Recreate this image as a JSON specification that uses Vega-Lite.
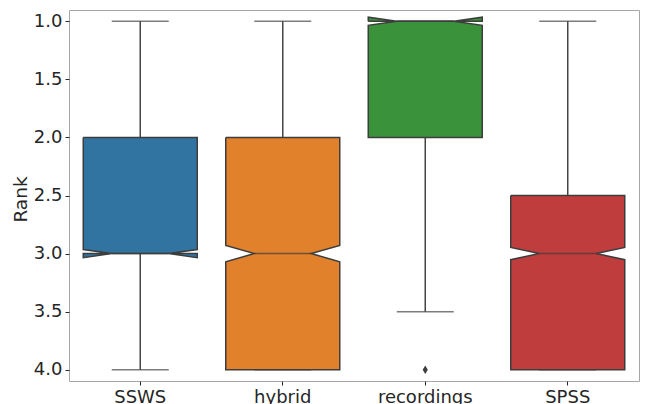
{
  "$schema": "https://vega.github.io/schema/vega-lite/v6.json",
  "width": 570,
  "height": 371,
  "autosize": {"type": "none"},
  "padding": {"left": 69, "top": 10, "right": 7, "bottom": 23},
  "background": "white",
  "datasets": {
    "boxes": [
      {"system": "SSWS", "lo": 1.0, "q1": 2.0, "med": 3.0, "q3": 3.0, "hi": 4.0, "nlo": 2.965, "nhi": 3.035},
      {"system": "hybrid", "lo": 1.0, "q1": 2.0, "med": 3.0, "q3": 4.0, "hi": 4.0, "nlo": 2.93, "nhi": 3.07},
      {"system": "recordings", "lo": 1.0, "q1": 1.0, "med": 1.0, "q3": 2.0, "hi": 3.5, "nlo": 0.965, "nhi": 1.035},
      {"system": "SPSS", "lo": 1.0, "q1": 2.5, "med": 3.0, "q3": 4.0, "hi": 4.0, "nlo": 2.9475, "nhi": 3.0525}
    ],
    "fliers": [
      {"system": "recordings", "rank": 4.0}
    ]
  },
  "data": {"name": "boxes"},
  "encoding": {
    "x": {
      "field": "system",
      "type": "nominal",
      "sort": ["SSWS", "hybrid", "recordings", "SPSS"],
      "scale": {"type": "band", "paddingInner": 0.2, "paddingOuter": 0.1},
      "axis": {"title": null, "labelAngle": 0, "labelPadding": 3}
    }
  },
  "layer": [
    {
      "mark": {"type": "rule", "color": "#454545", "strokeWidth": 1.5},
      "encoding": {
        "y": {"field": "lo", "type": "quantitative", "title": "Rank", "scale": {"domain": [0.9027, 4.0973], "reverse": true, "nice": false, "zero": false},
              "axis": {"values": [1, 1.5, 2, 2.5, 3, 3.5, 4], "format": ".1f", "labelPadding": 3, "titleX": -43, "titleY": 189, "titleBaseline": "alphabetic", "titleAngle": 270}},
        "y2": {"field": "q1"}
      }
    },
    {
      "mark": {"type": "rule", "color": "#454545", "strokeWidth": 1.5},
      "encoding": {
        "y": {"field": "q3", "type": "quantitative", "title": "Rank", "scale": {"domain": [0.9027, 4.0973], "reverse": true, "nice": false, "zero": false}},
        "y2": {"field": "hi"}
      }
    },
    {
      "mark": {"type": "tick", "orient": "horizontal", "color": "#454545", "size": 57, "thickness": 1.5},
      "encoding": {
        "y": {"field": "lo", "type": "quantitative", "title": "Rank", "scale": {"domain": [0.9027, 4.0973], "reverse": true, "nice": false, "zero": false}}
      }
    },
    {
      "mark": {"type": "tick", "orient": "horizontal", "color": "#454545", "size": 57, "thickness": 1.5},
      "encoding": {
        "y": {"field": "hi", "type": "quantitative", "title": "Rank", "scale": {"domain": [0.9027, 4.0973], "reverse": true, "nice": false, "zero": false}}
      }
    },
    {
      "transform": [
        {"fold": ["q1", "q1", "nlo", "med", "nhi", "q3", "q3", "nhi", "med", "nlo", "q1"], "as": ["stat", "value"]},
        {"window": [{"op": "row_number", "as": "vertex"}], "groupby": ["system"]},
        {"calculate": "[0, -1, 1, 1, 0.5, 1, 1, -1, -1, -0.5, -1, -1][datum.vertex]", "as": "side"}
      ],
      "mark": {"type": "line", "stroke": "#3d3d3d", "strokeWidth": 1.5, "strokeJoin": "miter"},
      "encoding": {
        "xOffset": {"field": "side", "type": "quantitative", "scale": {"domain": [-1, 1], "nice": false, "zero": false}},
        "y": {"field": "value", "type": "quantitative", "title": "Rank", "scale": {"domain": [0.9027, 4.0973], "reverse": true, "nice": false, "zero": false}},
        "order": {"field": "vertex", "type": "quantitative"},
        "detail": {"field": "system", "type": "nominal"},
        "fill": {
          "field": "system",
          "type": "nominal",
          "scale": {"domain": ["SSWS", "hybrid", "recordings", "SPSS"], "range": ["#3274a1", "#e1812c", "#3a923a", "#c03d3e"]},
          "legend": null
        }
      }
    },
    {
      "mark": {"type": "tick", "orient": "horizontal", "color": "#3d3d3d", "size": 57, "thickness": 1.5},
      "encoding": {
        "y": {"field": "med", "type": "quantitative", "title": "Rank", "scale": {"domain": [0.9027, 4.0973], "reverse": true, "nice": false, "zero": false}}
      }
    },
    {
      "data": {"name": "fliers"},
      "mark": {"type": "point", "shape": "M0,-1L0.6,0L0,1L-0.6,0Z", "filled": true, "color": "#3d3d3d", "size": 72, "opacity": 1},
      "encoding": {
        "y": {"field": "rank", "type": "quantitative", "title": "Rank", "scale": {"domain": [0.9027, 4.0973], "reverse": true, "nice": false, "zero": false}}
      }
    }
  ],
  "config": {
    "view": {"stroke": "#a6a6a6", "strokeWidth": 1},
    "axis": {
      "domain": false,
      "grid": false,
      "labelFont": "DejaVu Sans",
      "labelFontSize": 18,
      "labelColor": "#262626",
      "tickColor": "#262626",
      "tickSize": 4,
      "tickWidth": 1,
      "titleFont": "DejaVu Sans",
      "titleFontSize": 18.5,
      "titleFontWeight": "normal",
      "titleColor": "#262626"
    }
  }
}
